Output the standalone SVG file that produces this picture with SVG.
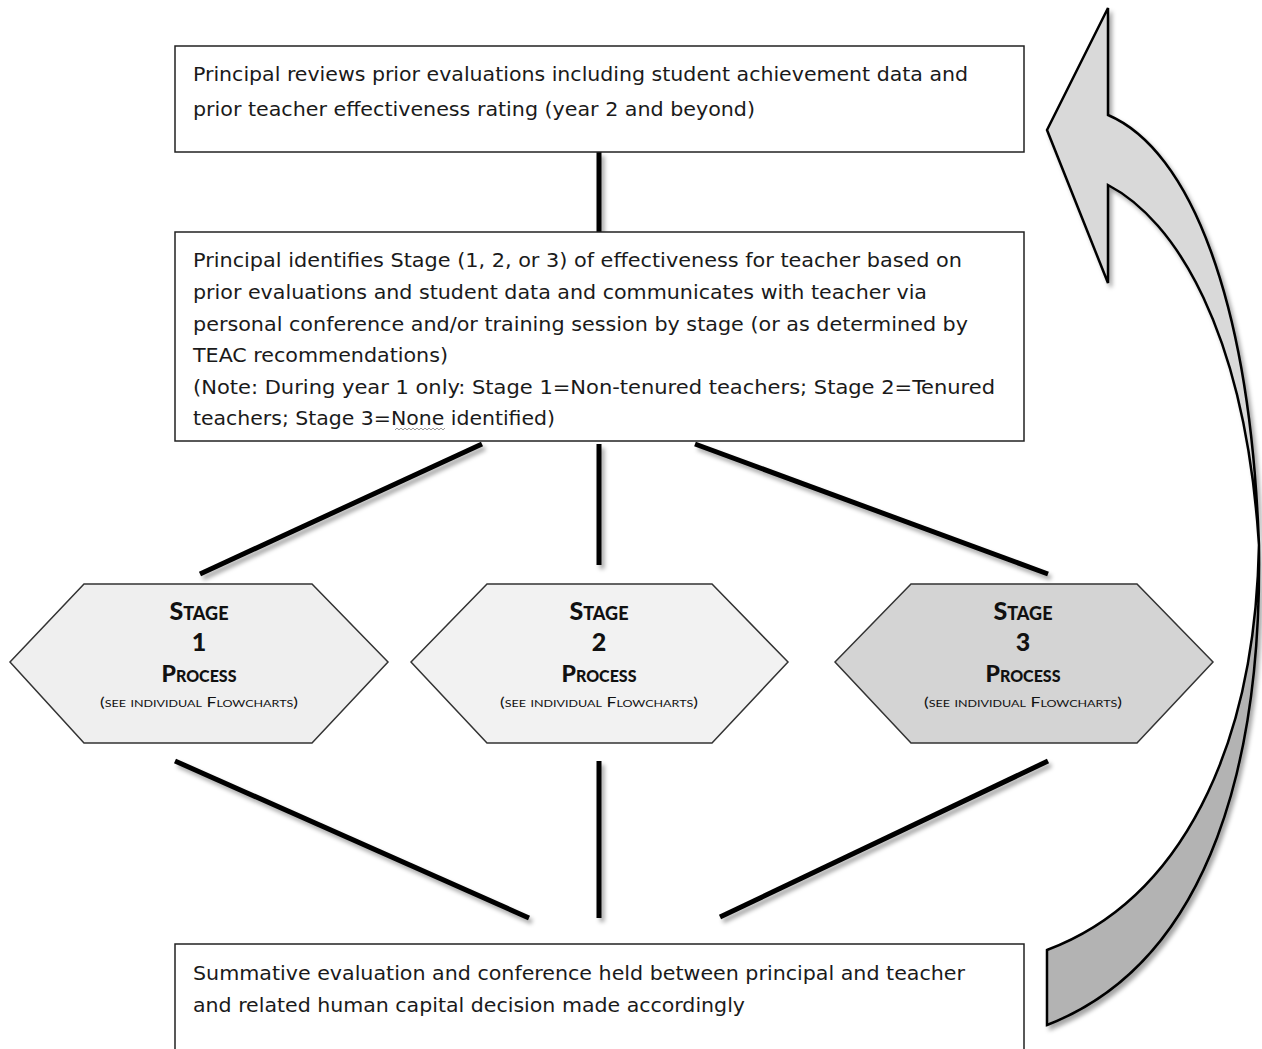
<svg xmlns="http://www.w3.org/2000/svg" width="1262" height="1049" viewBox="0 0 1262 1049">
  <defs>
    <filter id="sh" x="-20%" y="-20%" width="140%" height="140%">
      <feDropShadow dx="3" dy="4" stdDeviation="2" flood-color="#000" flood-opacity="0.35"/>
    </filter>
    <style>
      .box { fill: #fff; stroke: #222; stroke-width: 1.5; }
      .hex { stroke: #333; stroke-width: 1.5; }
      .body { font-family: "DejaVu Sans Condensed", "DejaVu Sans", "Liberation Sans", sans-serif; font-size: 19.5px; fill: #1a1a1a; }
      .st { font-family: Lato, "Open Sans", sans-serif; font-weight: 900; font-variant: small-caps; fill: #111; text-anchor: middle; }
      .see { font-family: Lato, "Open Sans", sans-serif; font-variant: small-caps; font-size: 14px; fill: #111; text-anchor: middle; }
      .conn line { stroke: #000; stroke-width: 5; }
      .arrow { stroke: #000; stroke-width: 2.5; stroke-linejoin: miter; }
    </style>
  </defs>
  <rect width="1262" height="1049" fill="#fff"/>

  <g id="connectors" class="conn" filter="url(#sh)">
    <line x1="599" y1="152" x2="599" y2="232"/>
    <line x1="482" y1="444" x2="200" y2="574"/>
    <line x1="599" y1="444" x2="599" y2="565"/>
    <line x1="695" y1="444" x2="1048" y2="574"/>
    <line x1="175" y1="761" x2="529" y2="918"/>
    <line x1="599" y1="761" x2="599" y2="918"/>
    <line x1="1048" y1="761" x2="720" y2="917"/>
  </g>

  <g id="loop-arrow" class="arrow" filter="url(#sh)">
    <path d="M1108,8 L1108,115 C1190,150 1250,300 1259,545 C1245,330 1175,220 1108,185 L1108,283 L1047,130 Z" fill="#d9d9d9"/>
    <path d="M1259,545 C1262,750 1215,960 1047,1025 L1047,950 C1180,900 1255,750 1259,545 Z" fill="#b3b3b3"/>
  </g>

  <g id="review">
    <rect class="box" x="175" y="46" width="849" height="106"/>
    <text class="body" x="193" y="81" textLength="775" lengthAdjust="spacingAndGlyphs">Principal reviews prior evaluations including student achievement data and</text>
    <text class="body" x="193" y="116" textLength="562" lengthAdjust="spacingAndGlyphs">prior teacher effectiveness rating (year 2 and beyond)</text>
  </g>

  <g id="identify">
    <rect class="box" x="175" y="232" width="849" height="209"/>
    <text class="body" x="193" y="267" textLength="769" lengthAdjust="spacingAndGlyphs">Principal identifies Stage (1, 2, or 3) of effectiveness for teacher based on</text>
    <text class="body" x="193" y="299" textLength="734" lengthAdjust="spacingAndGlyphs">prior evaluations and student data and communicates with teacher via</text>
    <text class="body" x="193" y="331" textLength="775" lengthAdjust="spacingAndGlyphs">personal conference and/or training session by stage (or as determined by</text>
    <text class="body" x="193" y="362" textLength="255" lengthAdjust="spacingAndGlyphs">TEAC recommendations)</text>
    <text class="body" x="193" y="394" textLength="802" lengthAdjust="spacingAndGlyphs">(Note: During year 1 only: Stage 1=Non-tenured teachers; Stage 2=Tenured</text>
    <text class="body" x="193" y="425" textLength="362" lengthAdjust="spacingAndGlyphs">teachers; Stage 3=None identified)</text>
    <path d="M395,430 l2,-2 l2,2 l2,-2 l2,2 l2,-2 l2,2 l2,-2 l2,2 l2,-2 l2,2 l2,-2 l2,2 l2,-2 l2,2 l2,-2 l2,2 l2,-2 l2,2 l2,-2 l2,2 l2,-2 l2,2 l2,-2 l2,2 l2,-2" fill="none" stroke="#9a9a9a" stroke-width="1"/>
  </g>

  <g id="stage1">
    <polygon class="hex" points="10,662 84,584 312,584 388,662 312,743 84,743" fill="#efefef"/>
    <text class="st" x="199" y="620" font-size="25">Stage</text>
    <text class="st" x="199" y="651" font-size="25">1</text>
    <text class="st" x="199" y="682" font-size="23">Process</text>
    <text class="see" x="199" y="707" textLength="198" lengthAdjust="spacingAndGlyphs">(see individual Flowcharts)</text>
  </g>

  <g id="stage2">
    <polygon class="hex" points="411,662 487,584 712,584 788,662 712,743 487,743" fill="#f2f2f2"/>
    <text class="st" x="599" y="620" font-size="25">Stage</text>
    <text class="st" x="599" y="651" font-size="25">2</text>
    <text class="st" x="599" y="682" font-size="23">Process</text>
    <text class="see" x="599" y="707" textLength="198" lengthAdjust="spacingAndGlyphs">(see individual Flowcharts)</text>
  </g>

  <g id="stage3">
    <polygon class="hex" points="835,662 911,584 1137,584 1213,662 1137,743 911,743" fill="#d4d4d4"/>
    <text class="st" x="1023" y="620" font-size="25">Stage</text>
    <text class="st" x="1023" y="651" font-size="25">3</text>
    <text class="st" x="1023" y="682" font-size="23">Process</text>
    <text class="see" x="1023" y="707" textLength="198" lengthAdjust="spacingAndGlyphs">(see individual Flowcharts)</text>
  </g>

  <g id="summative">
    <rect class="box" x="175" y="944" width="849" height="120"/>
    <text class="body" x="193" y="980" textLength="772" lengthAdjust="spacingAndGlyphs">Summative evaluation and conference held between principal and teacher</text>
    <text class="body" x="193" y="1012" textLength="552" lengthAdjust="spacingAndGlyphs">and related human capital decision made accordingly</text>
  </g>
</svg>
